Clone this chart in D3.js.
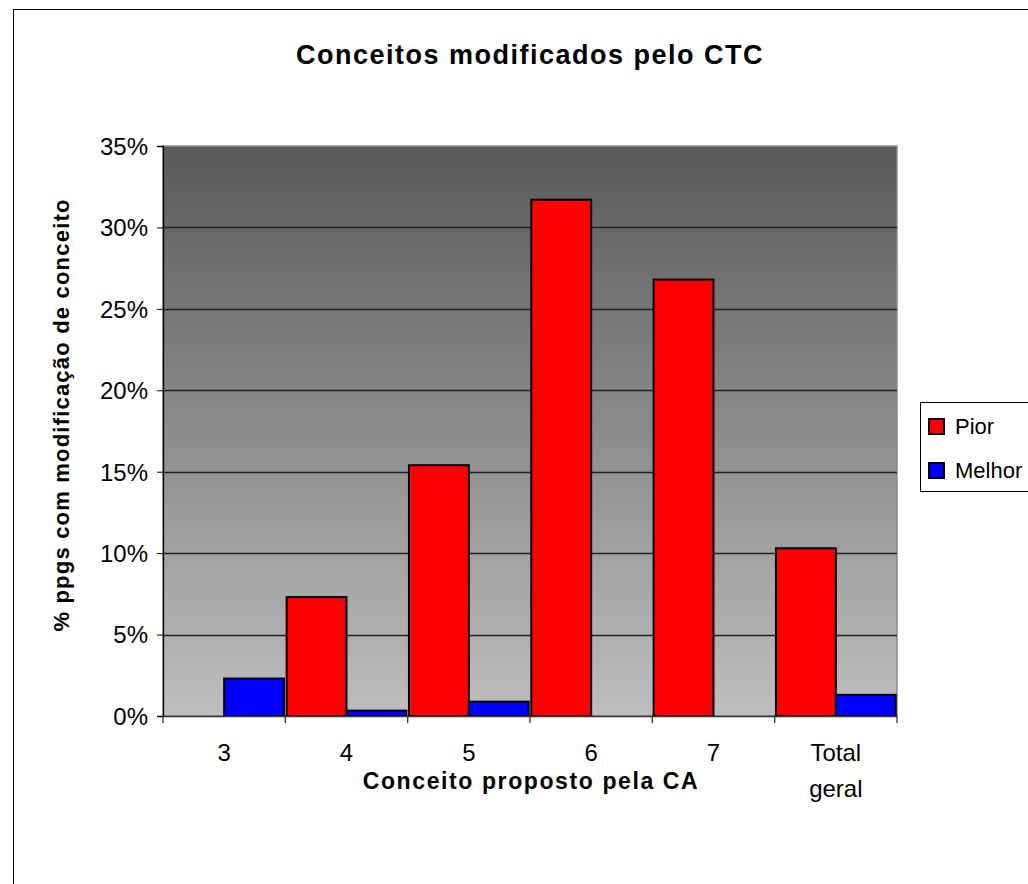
<!DOCTYPE html>
<html>
<head>
<meta charset="utf-8">
<script src="https://cdn.jsdelivr.net/npm/d3@7"></script>
<style>
  body { margin: 0; background: #fff; }
  text { font-family: "Liberation Sans", Arial, sans-serif; fill: #000; }
</style>
</head>
<body>
<svg id="chart" width="1028" height="884"></svg>
<script>
// data
var categories = ["3", "4", "5", "6", "7", "Total geral"];
var seriesNames = ["Pior", "Melhor"];
var seriesColors = ["#ff0000", "#0000ff"];
var pior = [0, 0.073, 0.154, 0.317, 0.268, 0.103];
var melhor = [0.023, 0.0033, 0.0088, 0, 0, 0.013];
var yTicks = [0, 0.05, 0.10, 0.15, 0.20, 0.25, 0.30, 0.35];

var svg = d3.select("#chart");

var plotLeft = 163, plotRight = 897, plotTop = 146, plotBottom = 716;

// outer chart frame (runs off the right/bottom edge like the original)
svg.append("rect")
  .attr("x", 13.5).attr("y", 9.5)
  .attr("width", 1100).attr("height", 1000)
  .attr("fill", "#fff").attr("stroke", "#000").attr("stroke-width", 1);

var x0 = d3.scaleBand().domain(categories).range([plotLeft, plotRight]);
var x1 = d3.scaleBand().domain(seriesNames).range([1.3, x0.bandwidth() - 1.3]);
var y = d3.scaleLinear().domain([0, 0.35]).range([plotBottom, plotTop]);

// plot background gradient
var defs = svg.append("defs");
var grad = defs.append("linearGradient").attr("id", "bg")
  .attr("x1", 0).attr("y1", 0).attr("x2", 0).attr("y2", 1);
grad.append("stop").attr("offset", "0%").attr("stop-color", "#5a5a5a");
grad.append("stop").attr("offset", "100%").attr("stop-color", "#bebebe");

svg.append("rect")
  .attr("x", plotLeft).attr("y", plotTop)
  .attr("width", plotRight - plotLeft).attr("height", plotBottom - plotTop)
  .attr("fill", "url(#bg)")
  .attr("stroke", "#8a8a8a").attr("stroke-width", 1.5);

// gridlines
svg.append("g").selectAll("line")
  .data(yTicks.slice(1, -1)).enter()
  .append("line")
  .attr("x1", plotLeft).attr("x2", plotRight)
  .attr("y1", function(d) { return Math.round(y(d)) + 0.5; })
  .attr("y2", function(d) { return Math.round(y(d)) + 0.5; })
  .attr("stroke", "#222").attr("stroke-width", 1.3);

// bars
var rows = categories.map(function(c, i) { return { cat: c, values: [pior[i], melhor[i]] }; });

var groups = svg.append("g").selectAll("g")
  .data(rows).enter()
  .append("g")
  .attr("transform", function(d) { return "translate(" + x0(d.cat) + ",0)"; });

groups.selectAll("rect")
  .data(function(d) {
    return d.values
      .map(function(v, j) { return { name: seriesNames[j], v: v, j: j }; })
      .filter(function(b) { return b.v > 0; });
  })
  .enter()
  .append("rect")
  .attr("x", function(d) { return x1(d.name); })
  .attr("width", x1.bandwidth())
  .attr("y", function(d) { return y(d.v); })
  .attr("height", function(d) { return plotBottom - y(d.v); })
  .attr("fill", function(d) { return seriesColors[d.j]; })
  .attr("stroke", "#000").attr("stroke-width", 2);

// y axis
var yAxis = d3.axisLeft(y).tickValues(yTicks)
  .tickFormat(function(d) { return Math.round(d * 100) + "%"; })
  .tickSize(6).tickPadding(9);
var gy = svg.append("g").attr("transform", "translate(" + plotLeft + ",0)").call(yAxis);
gy.select(".domain").attr("stroke", "#000").attr("stroke-width", 1.3);
gy.selectAll(".tick line").attr("stroke", "#000");
gy.selectAll("text").style("font-size", "24px").attr("dy", "0.35em");

// x axis (ticks at category boundaries)
var gx = svg.append("g").attr("transform", "translate(0," + plotBottom + ")");
gx.append("line").attr("x1", plotLeft).attr("x2", plotRight).attr("y1", 0.5).attr("y2", 0.5)
  .attr("stroke", "#333").attr("stroke-width", 1.3);
gx.selectAll(".bt")
  .data(categories.concat([null])).enter()
  .append("line")
  .attr("x1", function(d, i) { return plotLeft + i * x0.step(); })
  .attr("x2", function(d, i) { return plotLeft + i * x0.step(); })
  .attr("y1", 0).attr("y2", 7)
  .attr("stroke", "#333").attr("stroke-width", 1.3);
gx.selectAll(".lbl")
  .data(categories).enter()
  .append("text")
  .attr("text-anchor", "middle")
  .style("font-size", "24px")
  .attr("x", function(d) { return x0(d) + x0.bandwidth() / 2; })
  .attr("y", 45)
  .each(function(d) {
    var words = d.split(" ");
    var t = d3.select(this);
    words.forEach(function(w, k) {
      t.append("tspan").attr("x", x0(d) + x0.bandwidth() / 2).attr("dy", k === 0 ? 0 : 36).text(w);
    });
  });

// titles
svg.append("text")
  .attr("x", 530).attr("y", 64)
  .attr("text-anchor", "middle")
  .style("font-size", "27px").style("font-weight", "bold").style("letter-spacing", "1.5px")
  .text("Conceitos modificados pelo CTC");

svg.append("text")
  .attr("x", 531).attr("y", 789)
  .attr("text-anchor", "middle")
  .style("font-size", "23px").style("font-weight", "bold").style("letter-spacing", "1.6px")
  .text("Conceito proposto pela CA");

svg.append("text")
  .attr("transform", "translate(69,415) rotate(-90)")
  .attr("text-anchor", "middle")
  .style("font-size", "22px").style("font-weight", "bold").style("letter-spacing", "1.2px")
  .text("% ppgs com modificação de conceito");

// legend
var lg = svg.append("g");
lg.append("rect")
  .attr("x", 920.5).attr("y", 402.5).attr("width", 200).attr("height", 89)
  .attr("fill", "#fff").attr("stroke", "#000").attr("stroke-width", 1);
var li = lg.selectAll(".li").data(seriesNames).enter().append("g")
  .attr("transform", function(d, i) { return "translate(929," + (419 + i * 44) + ")"; });
li.append("rect").attr("width", 15).attr("height", 15)
  .attr("fill", function(d, i) { return seriesColors[i]; })
  .attr("stroke", "#000").attr("stroke-width", 2);
li.append("text").attr("x", 26).attr("y", 15)
  .style("font-size", "22px").text(function(d) { return d; });
</script>
</body>
</html>
